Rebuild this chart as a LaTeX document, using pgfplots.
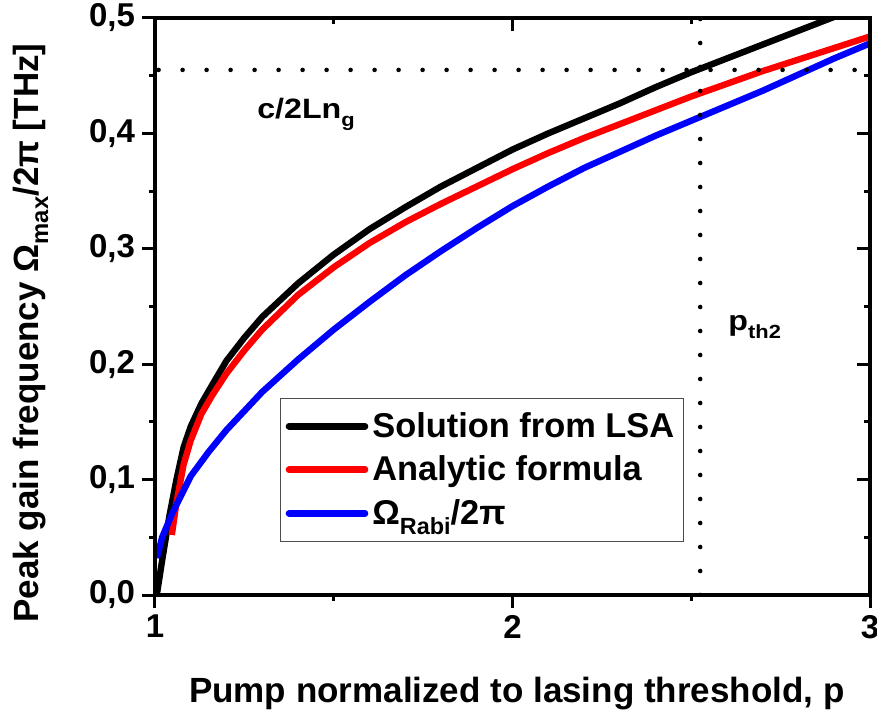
\documentclass[border=0pt]{standalone}
\usepackage{fontspec}
\setmainfont{Liberation Sans}
\usepackage{graphicx}
\usepackage{pgfplots}
\pgfplotsset{compat=1.18}
\newcommand{\sub}[1]{\raisebox{-0.55ex}{\scalebox{0.68}{#1}}}

\pgfplotsset{
  common/.style={
    width=357.5pt, height=288.5pt, scale only axis,
    xmin=1, xmax=3, ymin=0, ymax=0.5,
    xtick={1,2,3}, minor xtick={1.5,2.5},
    ytick={0,0.1,0.2,0.3,0.4,0.5},
    minor ytick={0.05,0.15,0.25,0.35,0.45},
    major tick length=6.5pt, minor tick length=3pt,
    tick style={line width=1.5pt, black},
    axis line style={line width=1.7pt},
    /pgf/number format/assume math mode=true,
  }
}

\begin{document}
\begin{tikzpicture}
\begin{axis}[common, name=main,
  tick align=outside, xtick pos=bottom, ytick pos=left,
  yticklabels={{0,0},{0,1},{0,2},{0,3},{0,4},{0,5}},
  tick label style={font=\bfseries\fontsize{16.5}{18}\selectfont},
  xlabel={Pump normalized to lasing threshold, p},
  ylabel={Peak gain frequency Ω\sub{max}/2π [THz]},
  label style={font=\bfseries\fontsize{17.5}{20}\selectfont},
  xlabel style={at={(axis description cs:0.506,-0.187)}, anchor=base},
  ylabel style={at={(axis description cs:-0.1636,0.454)}, anchor=base},
  legend style={at={(axis description cs:0.175,0.342)}, anchor=north west,
    draw=black!70, line width=0.6pt, font=\bfseries\fontsize{17.2}{20}\selectfont,
    inner xsep=2.5pt, inner ysep=5pt, row sep=3.8pt},
  legend cell align=left,
  legend image code/.code={\draw[#1, line width=3.3pt, line cap=round] (0pt,0pt) -- (38pt,0pt);},
]
\addplot[black, line width=3.2pt, line join=round] coordinates {
(1.005,0.0) (1.02,0.03) (1.04,0.068) (1.06,0.100) (1.08,0.128) (1.1,0.146)
(1.13,0.166) (1.16,0.182) (1.2,0.203) (1.25,0.223) (1.3,0.241) (1.4,0.270)
(1.5,0.295) (1.6,0.317) (1.7,0.336) (1.8,0.354) (1.9,0.370) (2.0,0.386)
(2.1,0.400) (2.2,0.413) (2.3,0.426) (2.4,0.440) (2.5,0.453) (2.6,0.465)
(2.7,0.477) (2.8,0.489) (2.9,0.501) (2.95,0.507)
};
\addlegendentry{Solution from LSA}
\addplot[red, line width=3.2pt, line join=round] coordinates {
(1.047,0.052) (1.06,0.080) (1.08,0.113) (1.1,0.134) (1.13,0.157) (1.16,0.173)
(1.2,0.192) (1.25,0.212) (1.3,0.230) (1.4,0.260) (1.5,0.284) (1.6,0.305)
(1.7,0.323) (1.8,0.339) (1.9,0.354) (2.0,0.369) (2.1,0.383) (2.2,0.396)
(2.3,0.408) (2.4,0.420) (2.5,0.432) (2.6,0.443) (2.7,0.454) (2.8,0.464)
(2.9,0.474) (3.0,0.484)
};
\addlegendentry{Analytic formula}
\addplot[blue, line width=3.2pt, line join=round] coordinates {
(1.005,0.032) (1.02,0.050) (1.05,0.072) (1.1,0.103) (1.15,0.124) (1.2,0.143)
(1.3,0.176) (1.4,0.204) (1.5,0.230) (1.6,0.254) (1.7,0.277) (1.8,0.298)
(1.9,0.318) (2.0,0.337) (2.1,0.354) (2.2,0.370) (2.3,0.384) (2.4,0.398)
(2.5,0.411) (2.6,0.424) (2.7,0.437) (2.8,0.451) (2.9,0.465) (3.0,0.478)
};
\addlegendentry{Ω\sub{Rabi}/2π}
\addplot[forget plot, black, line width=2.3pt, line cap=round, dash pattern=on 0pt off 12pt]
  coordinates {(1.01,0.455) (3,0.455)};
\addplot[forget plot, black, line width=2.3pt, line cap=round, dash pattern=on 0pt off 12pt]
  coordinates {(2.525,0.0) (2.525,0.5)};
\node[anchor=base west, font=\bfseries\fontsize{14}{16}\selectfont, inner sep=0pt]
  at (axis cs:1.285,0.413) {\scalebox{1.15}[1]{c/2Ln\sub{g}}};
\node[anchor=base west, font=\bfseries\fontsize{14}{16}\selectfont, inner sep=0pt]
  at (axis cs:2.603,0.2296) {\scalebox{1.15}[1]{p\sub{th2}}};
\end{axis}
\begin{axis}[common, at={(main.south west)}, anchor=south west,
  tick align=inside, xtick pos=top, ytick pos=right,
  xticklabels={}, yticklabels={}]
\end{axis}
\pgfresetboundingbox
\path ([shift={(-77.5pt,-58.5pt)}]main.south west) rectangle ([shift={(3.5pt,9pt)}]main.north east);
\end{tikzpicture}
\end{document}
